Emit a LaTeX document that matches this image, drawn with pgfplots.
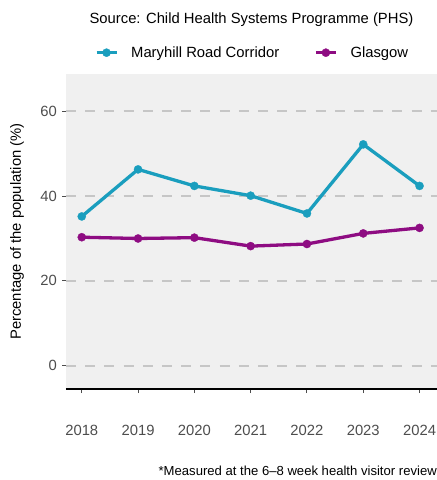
\documentclass[border=0pt]{standalone}
\usepackage{fontspec}
\setmainfont{Liberation Sans}
\usepackage{pgfplots}
\pgfplotsset{compat=1.18}

\definecolor{mrc}{HTML}{1A9EBE}
\definecolor{gla}{HTML}{8E0C82}
\definecolor{panelbg}{HTML}{F0F0F0}
\definecolor{gridc}{HTML}{C6C6C6}
\definecolor{tickc}{HTML}{4D4D4D}

\newcommand{\chartfont}{\fontsize{14.8bp}{17bp}\selectfont}

\begin{document}
\begin{tikzpicture}
\path[use as bounding box] (-66bp,-91bp) rectangle (371bp,389bp);
\begin{axis}[
    at={(0,0)}, anchor=south west,
    scale only axis, width=371bp, height=315bp,
    xmin=2017.72, xmax=2024.31,
    ymin=-5.5, ymax=68.8,
    xtick={2018,2019,2020,2021,2022,2023,2024},
    ytick={0,20,40,60},
    /pgf/number format/assume math mode=true,
    /pgf/number format/1000 sep={},
    axis background/.style={fill=panelbg},
    axis x line*=bottom, axis y line*=left,
    x axis line style={black, line width=1.2bp, -},
    y axis line style={draw=none},
    tick align=outside, major tick length=4bp,
    tick style={tickc, line width=1bp},
    ymajorgrids,
    major grid style={gridc, line width=1.8bp, dash pattern=on 10bp off 9.2bp},
    ticklabel style={font=\chartfont, text=tickc, inner sep=0pt},
    xticklabel style={anchor=base, yshift=-42.5bp},
    yticklabel style={anchor=east, xshift=-5bp},
    title={Source: Child Health Systems Programme (PHS)},
    title style={at={(0.5,1)}, anchor=base, yshift=45bp, font=\chartfont, inner sep=0pt},
    ylabel={Percentage of the population (\%)},
    every axis y label/.style={at={(rel axis cs:0,0.5)}, xshift=-49bp, rotate=90, anchor=center, font=\chartfont},
    legend columns=2,
    legend style={at={(0.5,1)}, anchor=south, yshift=15bp, draw=none, fill=none,
        inner sep=0pt, font=\chartfont,
        nodes={inner sep=0pt},
        /tikz/every odd column/.append style={column sep=13bp},
        /tikz/every even column/.append style={column sep=35bp}},
    legend image code/.code={
        \draw[#1, mark repeat=2, mark phase=2] plot coordinates {(0bp,0bp) (10bp,0bp) (20bp,0bp)};
    },
    every axis plot/.append style={line width=3.3bp, mark=*, mark size=4.1bp},
]
\addplot[color=mrc, mark options={solid, fill=mrc, draw=mrc, line width=0.3bp}] coordinates {
    (2018,35.2) (2019,46.3) (2020,42.4) (2021,40.1) (2022,35.9) (2023,52.2) (2024,42.4)
};
\addlegendentry{Maryhill Road Corridor}
\addplot[color=gla, mark options={solid, fill=gla, draw=gla, line width=0.3bp}] coordinates {
    (2018,30.3) (2019,30.0) (2020,30.2) (2021,28.2) (2022,28.7) (2023,31.2) (2024,32.5)
};
\addlegendentry{Glasgow}
\end{axis}
\node[anchor=base east, inner sep=0pt, font=\fontsize{13.1bp}{15bp}\selectfont] at (371bp,-86bp)
    {*Measured at the 6–8 week health visitor review};
\end{tikzpicture}
\end{document}
